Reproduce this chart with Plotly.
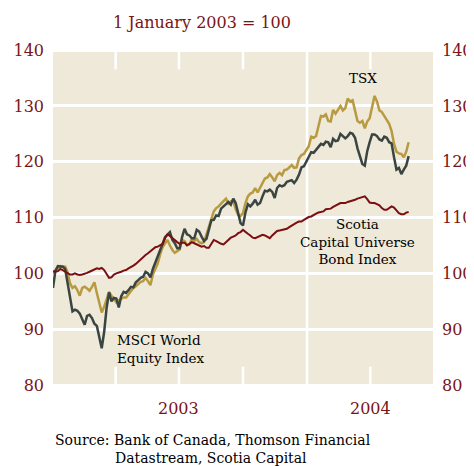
import pandas as pd
import plotly.graph_objects as go

# Twice-weekly observations starting 1 January 2003 (index, 1 Jan 2003 = 100)
dates = pd.date_range("2003-01-01", periods=147, freq="84h")

tsx = [100.0, 100.6, 101.0, 101.3, 101.2, 101.2, 100.2, 98.2, 97.4, 97.7,
       97.0, 96.0, 97.4, 97.6, 97.3, 96.9, 97.6, 98.4, 96.5, 94.8,
       93.0, 94.0, 95.3, 96.7, 96.0, 95.3, 94.8, 95.2, 95.5, 95.7,
       95.7, 96.3, 97.0, 97.4, 97.7, 98.2, 98.5, 98.6, 99.2, 98.6,
       97.9, 99.8, 100.8, 101.8, 103.4, 104.7, 105.4, 106.0, 105.0, 104.2,
       103.7, 104.0, 104.3, 106.0, 105.8, 105.1, 105.2, 106.2, 105.8, 106.2,
       105.6, 105.4, 105.6, 107.0, 108.5, 110.0, 111.1, 111.7, 112.0, 112.5,
       113.0, 113.4, 112.5, 112.9, 113.0, 111.5, 110.5, 110.3, 110.8, 112.6,
       113.8, 114.3, 114.5, 115.3, 114.5, 115.4, 116.2, 117.0, 117.2, 117.8,
       117.2, 116.5, 117.6, 118.0, 117.6, 118.5, 118.6, 119.0, 119.4, 118.9,
       119.0, 120.6, 121.2, 121.4, 122.0, 122.8, 124.5, 124.3, 124.6, 126.6,
       128.2, 128.1, 128.5, 127.3, 127.2, 129.3, 128.6, 129.3, 130.0, 129.2,
       129.6, 131.3, 130.8, 131.0, 129.2, 127.3, 127.0, 127.3, 126.0, 127.2,
       127.8, 130.0, 131.8, 130.8, 129.2, 128.9, 128.3, 127.5, 126.8, 125.5,
       123.2, 121.8, 121.5, 121.4, 120.8, 121.8, 123.5]

msci = [97.4, 100.5, 101.3, 101.3, 101.2, 100.8, 98.3, 95.6, 93.2, 93.5,
        93.3, 92.8, 91.8, 90.8, 92.4, 92.6, 92.0, 91.0, 90.6, 88.8,
        86.6, 89.5, 93.8, 96.6, 95.0, 95.6, 95.5, 93.9, 95.9, 96.7,
        96.5, 97.0, 97.6, 97.5, 98.4, 98.8, 99.2, 99.4, 100.3, 100.0,
        99.3, 100.8, 101.9, 102.8, 104.2, 105.3, 106.5, 107.0, 107.4, 106.0,
        105.4, 104.5, 104.5, 106.5, 108.0, 107.0, 106.8, 106.3, 106.3, 107.8,
        107.5, 106.6, 105.8, 106.2, 108.0, 109.5, 109.6, 110.4, 110.3, 111.6,
        112.0, 112.4, 112.8, 112.3, 113.4, 112.6, 110.8, 109.0, 108.6, 110.9,
        112.4, 112.0, 112.5, 113.2, 112.3, 112.6, 113.8, 114.8, 114.7, 115.0,
        114.6, 113.5, 115.3, 115.8, 115.6, 115.8, 116.4, 116.6, 116.7, 116.2,
        116.8, 117.7, 119.0, 119.2, 120.0, 121.0, 121.7, 121.6, 122.2, 122.6,
        123.2, 123.0, 123.6, 123.5, 122.6, 124.1, 123.7, 123.8, 125.0, 124.6,
        124.2, 124.6, 125.2, 125.0, 124.3, 122.4, 120.9, 119.6, 119.3, 121.9,
        123.5, 124.9, 124.9, 124.6, 124.0, 123.8, 124.5, 124.3, 123.5, 123.3,
        120.8, 118.6, 118.9, 117.8, 118.6, 119.3, 121.0]

bond = [100.4, 100.3, 100.4, 100.8, 100.6, 100.3, 100.0, 99.8, 99.8, 100.0,
        99.8, 99.7, 99.8, 99.9, 100.1, 100.3, 100.5, 100.7, 100.9, 100.8,
        101.0, 100.6, 100.0, 99.2, 99.3, 99.8, 100.0, 100.1, 100.3, 100.5,
        100.6, 100.9, 101.1, 101.4, 101.7, 102.1, 102.6, 102.9, 103.3, 103.6,
        104.0, 104.4, 104.7, 104.8, 105.0, 105.3, 106.3, 107.0, 106.7, 106.3,
        106.0, 105.6, 105.3, 105.5, 105.5, 105.0, 105.3, 105.6, 105.4, 105.2,
        105.1, 104.8, 104.9, 104.6, 104.6, 105.3, 106.0, 105.8, 105.5, 105.3,
        105.2, 105.6, 106.1, 106.4, 106.6, 106.8, 107.2, 107.4, 107.8, 107.4,
        107.1, 106.8, 106.4, 106.3, 106.5, 106.7, 106.9, 106.8, 106.5, 106.3,
        106.8, 107.2, 107.6, 107.7, 107.8, 107.8, 108.0, 108.3, 108.6, 108.8,
        109.1, 109.3, 109.3, 109.6, 109.9, 110.1, 110.2, 110.5, 110.7, 110.9,
        111.0, 111.1, 111.5, 111.6, 111.6, 111.9, 112.1, 112.4, 112.6, 112.6,
        112.6, 112.8, 112.9, 113.1, 113.2, 113.4, 113.5, 113.7, 113.8, 113.3,
        112.7, 112.6, 112.6, 112.4, 112.2, 111.7, 111.4, 111.4, 111.7, 112.0,
        111.8, 111.2, 110.8, 110.6, 110.6, 110.9, 111.0]

y_ticks = [80, 90, 100, 110, 120, 130, 140]
quarter_ticks = ["2003-04-01", "2003-07-01", "2003-10-01", "2004-04-01"]
year_break = "2004-01-01"
year_labels = ["2003", "2004"]
year_label_pos = ["2003-07-01", "2004-04-01"]

RED = "#7a1416"
GOLD = "#b89a40"
SLATE = "#3a4542"
BOND = "#7b0e10"
BG = "#eee9d8"
SERIF = "DejaVu Serif"

fig = go.Figure()
fig.add_trace(go.Scatter(x=dates, y=tsx, mode="lines", name="TSX",
                         line=dict(color=GOLD, width=2.5)))
fig.add_trace(go.Scatter(x=dates, y=msci, mode="lines", name="MSCI World Equity Index",
                         line=dict(color=SLATE, width=2.5)))
fig.add_trace(go.Scatter(x=dates, y=bond, mode="lines", name="Scotia Capital Universe Bond Index",
                         line=dict(color=BOND, width=2)))
# invisible trace to carry the right-hand axis
fig.add_trace(go.Scatter(x=dates, y=bond, mode="lines", yaxis="y2",
                         line=dict(width=0), opacity=0, hoverinfo="skip", showlegend=False))

shapes = []
for q in quarter_ticks:
    shapes.append(dict(type="line", xref="x", yref="paper", x0=q, x1=q, y0=1, y1=0.94,
                       line=dict(color="white", width=2.5), layer="between"))
    shapes.append(dict(type="line", xref="x", yref="paper", x0=q, x1=q, y0=0, y1=0.06,
                       line=dict(color="white", width=2.5), layer="between"))
shapes.append(dict(type="line", xref="x", yref="paper", x0=year_break, x1=year_break, y0=0, y1=1,
                   line=dict(color="white", width=2.5), layer="between"))
shapes.append(dict(type="line", xref="paper", yref="y", x0=0, x1=1, y0=100, y1=100,
                   line=dict(color=BOND, width=1.5), layer="between"))

annotations = [
    dict(text="1 January 2003 = 100", xref="paper", yref="paper", x=0.391, y=1.077,
         xanchor="center", yanchor="middle", showarrow=False,
         font=dict(family=SERIF, size=16, color=RED)),
    dict(text="TSX", xref="paper", yref="paper", x=0.816, y=0.914,
         xanchor="center", yanchor="middle", showarrow=False,
         font=dict(family=SERIF, size=13.5, color="black")),
    dict(text="Scotia<br>Capital Universe<br>Bond Index", xref="paper", yref="paper",
         x=0.80, y=0.430, xanchor="center", yanchor="middle", align="center", showarrow=False,
         font=dict(family=SERIF, size=13.5, color="black")),
    dict(text="MSCI World<br>Equity Index", xref="paper", yref="paper",
         x=0.163, y=0.112, xanchor="left", yanchor="middle", align="left", showarrow=False,
         font=dict(family=SERIF, size=13.5, color="black")),
    dict(text="Source: Bank of Canada, Thomson Financial", xref="paper", yref="paper",
         x=0.0, y=-0.157, xanchor="left", yanchor="middle", showarrow=False,
         font=dict(family=SERIF, size=14, color="black")),
    dict(text="Datastream, Scotia Capital", xref="paper", yref="paper",
         x=0.158, y=-0.210, xanchor="left", yanchor="middle", showarrow=False,
         font=dict(family=SERIF, size=14, color="black")),
]
for lab, pos in zip(year_labels, year_label_pos):
    annotations.append(dict(text=lab, xref="x", yref="paper", x=pos, y=-0.065,
                            xanchor="center", yanchor="middle", showarrow=False,
                            font=dict(family=SERIF, size=16, color=RED)))

axis_font = dict(family=SERIF, size=16, color=RED)
# the page body adds an 8 px offset, so the figure is 8 px smaller than the window
fig.update_layout(
    width=466, height=458,
    margin=dict(l=45, r=41, t=41, b=79, autoexpand=False),
    paper_bgcolor="white", plot_bgcolor=BG,
    showlegend=False,
    xaxis=dict(range=["2003-01-01", "2004-06-30"], showgrid=False, zeroline=False,
               showticklabels=False, ticks="", showline=False, automargin=False),
    yaxis=dict(range=[79.65, 140.2], tickvals=y_ticks, showgrid=True, gridcolor="white",
               gridwidth=2.5, zeroline=False, ticks="", showline=False, automargin=False,
               tickfont=axis_font, ticklabelstandoff=8),
    yaxis2=dict(range=[79.65, 140.2], tickvals=y_ticks, overlaying="y", side="right",
                showgrid=False, zeroline=False, ticks="", showline=False, automargin=False,
                tickfont=axis_font, ticklabelstandoff=8),
    shapes=shapes,
    annotations=annotations,
)

fig.write_html("out.html")
